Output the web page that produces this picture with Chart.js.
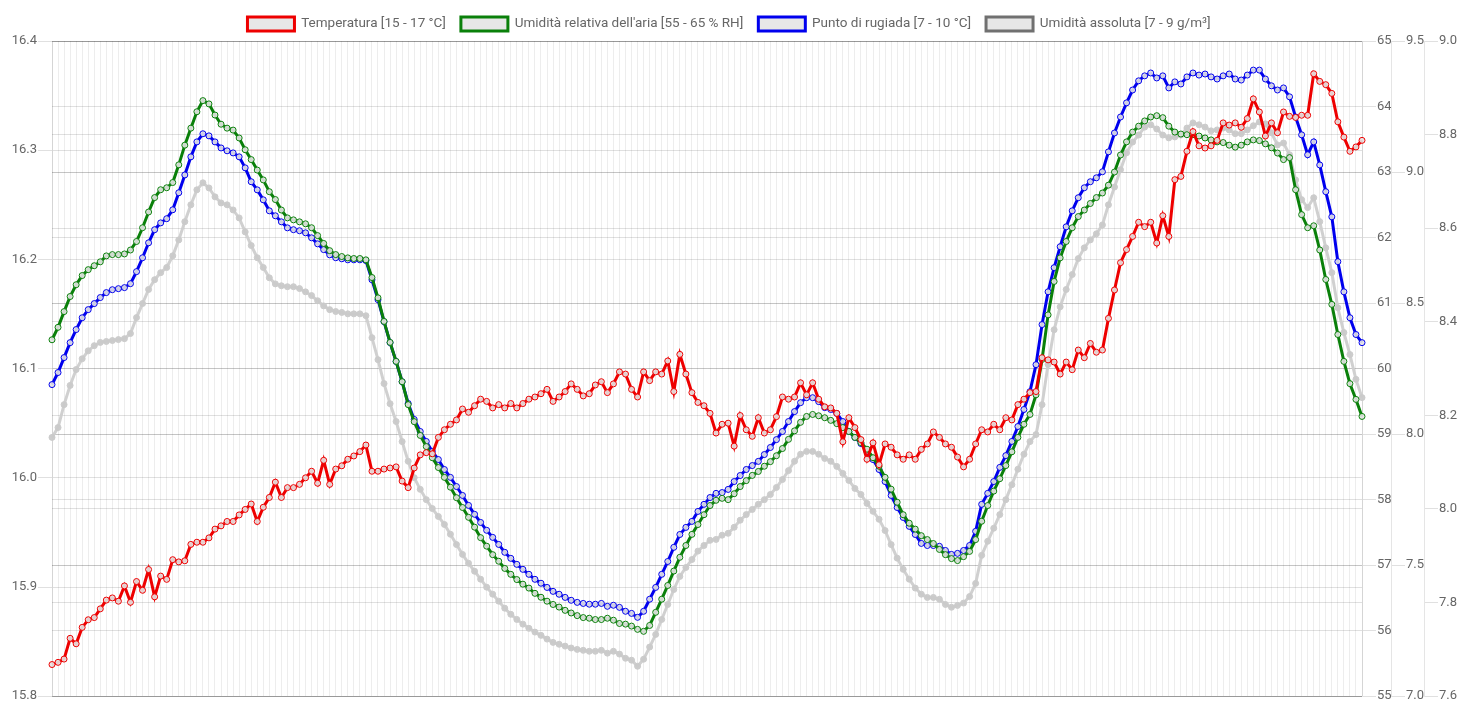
<!DOCTYPE html>
<html>
<head>
<meta charset="utf-8">
<script src="https://cdn.jsdelivr.net/npm/chart.js@4/dist/chart.umd.min.js"></script>
<style>
    body { margin: 0; background: #fff; }
    #wrap { width: 1458px; height: 705px; }
</style>
</head>
<body>
<div id="wrap"><canvas id="myChart" width="1458" height="705"></canvas></div>
<script>
// Temperatura (°C)
const temperatura = [
    15.829, 15.831, 15.834, 15.853, 15.848, 15.863, 15.870, 15.872, 15.880, 15.888,
    15.890, 15.887, 15.901, 15.886, 15.905, 15.897, 15.916, 15.891, 15.910, 15.907,
    15.925, 15.923, 15.924, 15.939, 15.941, 15.941, 15.945, 15.953, 15.956, 15.960,
    15.960, 15.966, 15.971, 15.976, 15.960, 15.973, 15.982, 15.996, 15.982, 15.991,
    15.991, 15.994, 16.000, 16.006, 15.995, 16.016, 15.994, 16.008, 16.011, 16.017,
    16.020, 16.024, 16.030, 16.006, 16.006, 16.008, 16.009, 16.010, 15.997, 15.991,
    16.009, 16.021, 16.023, 16.022, 16.037, 16.044, 16.049, 16.053, 16.063, 16.060,
    16.066, 16.072, 16.070, 16.064, 16.067, 16.064, 16.068, 16.064, 16.068, 16.072,
    16.074, 16.077, 16.081, 16.070, 16.074, 16.079, 16.086, 16.081, 16.075, 16.077,
    16.085, 16.088, 16.078, 16.086, 16.097, 16.095, 16.081, 16.074, 16.097, 16.089,
    16.097, 16.095, 16.107, 16.079, 16.113, 16.095, 16.078, 16.069, 16.066, 16.059,
    16.041, 16.049, 16.050, 16.029, 16.057, 16.044, 16.038, 16.055, 16.041, 16.044,
    16.056, 16.074, 16.072, 16.074, 16.087, 16.076, 16.087, 16.072, 16.065, 16.064,
    16.059, 16.033, 16.055, 16.046, 16.035, 16.017, 16.032, 16.012, 16.031, 16.028,
    16.021, 16.017, 16.021, 16.017, 16.026, 16.031, 16.042, 16.037, 16.031, 16.028,
    16.019, 16.010, 16.017, 16.031, 16.044, 16.042, 16.049, 16.044, 16.055, 16.053,
    16.067, 16.072, 16.078, 16.079, 16.110, 16.108, 16.106, 16.095, 16.106, 16.099,
    16.117, 16.110, 16.123, 16.115, 16.117, 16.146, 16.172, 16.197, 16.209, 16.221,
    16.234, 16.230, 16.234, 16.215, 16.240, 16.221, 16.273, 16.276, 16.299, 16.317,
    16.304, 16.302, 16.304, 16.309, 16.325, 16.323, 16.325, 16.321, 16.329, 16.347,
    16.335, 16.313, 16.325, 16.316, 16.335, 16.331, 16.330, 16.332, 16.332, 16.370,
    16.363, 16.360, 16.352, 16.326, 16.312, 16.299, 16.303, 16.309
];
// Umidità relativa (% RH)
const umiditaRelativa = [
    60.44, 60.63, 60.87, 61.10, 61.28, 61.42, 61.51, 61.57, 61.63, 61.72,
    61.74, 61.74, 61.75, 61.81, 61.94, 62.15, 62.39, 62.61, 62.73, 62.76,
    62.84, 63.11, 63.41, 63.67, 63.92, 64.09, 64.04, 63.87, 63.73, 63.67,
    63.64, 63.52, 63.34, 63.19, 63.03, 62.88, 62.70, 62.58, 62.42, 62.30,
    62.27, 62.24, 62.21, 62.15, 62.03, 61.91, 61.80, 61.74, 61.71, 61.69,
    61.68, 61.68, 61.66, 61.39, 61.08, 60.72, 60.40, 60.11, 59.80, 59.45,
    59.19, 58.98, 58.81, 58.64, 58.49, 58.34, 58.19, 58.03, 57.88, 57.73,
    57.58, 57.42, 57.29, 57.16, 57.06, 56.95, 56.86, 56.78, 56.71, 56.65,
    56.57, 56.51, 56.45, 56.40, 56.36, 56.31, 56.27, 56.23, 56.20, 56.19,
    56.17, 56.17, 56.19, 56.16, 56.11, 56.10, 56.07, 56.02, 55.99, 56.08,
    56.28, 56.48, 56.69, 56.91, 57.12, 57.30, 57.47, 57.62, 57.77, 57.91,
    57.99, 58.02, 58.00, 58.09, 58.20, 58.29, 58.37, 58.43, 58.51, 58.58,
    58.67, 58.78, 58.92, 59.05, 59.18, 59.27, 59.30, 59.28, 59.25, 59.21,
    59.16, 59.10, 59.04, 58.95, 58.87, 58.77, 58.64, 58.51, 58.34, 58.16,
    57.96, 57.77, 57.64, 57.55, 57.45, 57.39, 57.33, 57.24, 57.16, 57.10,
    57.07, 57.13, 57.21, 57.39, 57.67, 57.91, 58.13, 58.32, 58.52, 58.73,
    58.95, 59.15, 59.30, 59.60, 60.14, 60.82, 61.33, 61.69, 61.94, 62.15,
    62.32, 62.42, 62.52, 62.61, 62.68, 62.80, 63.00, 63.26, 63.46, 63.61,
    63.70, 63.78, 63.84, 63.86, 63.83, 63.70, 63.61, 63.58, 63.57, 63.57,
    63.55, 63.52, 63.49, 63.46, 63.45, 63.41, 63.38, 63.41, 63.46, 63.49,
    63.48, 63.43, 63.37, 63.29, 63.19, 63.22, 62.73, 62.35, 62.15, 62.18,
    61.81, 61.36, 60.98, 60.52, 60.11, 59.77, 59.53, 59.27
];
// Punto di rugiada (°C)
const puntoRugiada = [
    8.189, 8.235, 8.292, 8.349, 8.399, 8.444, 8.475, 8.498, 8.521, 8.540,
    8.551, 8.555, 8.559, 8.574, 8.620, 8.673, 8.730, 8.780, 8.806, 8.822,
    8.856, 8.921, 8.989, 9.058, 9.115, 9.146, 9.138, 9.115, 9.092, 9.081,
    9.073, 9.058, 9.016, 8.963, 8.932, 8.894, 8.852, 8.833, 8.810, 8.787,
    8.780, 8.776, 8.768, 8.749, 8.726, 8.704, 8.684, 8.673, 8.669, 8.665,
    8.665, 8.665, 8.662, 8.589, 8.513, 8.429, 8.349, 8.277, 8.200, 8.117,
    8.056, 8.010, 7.972, 7.934, 7.903, 7.865, 7.835, 7.800, 7.766, 7.728,
    7.694, 7.663, 7.633, 7.606, 7.579, 7.549, 7.526, 7.503, 7.484, 7.465,
    7.446, 7.431, 7.415, 7.400, 7.389, 7.377, 7.366, 7.358, 7.354, 7.351,
    7.351, 7.354, 7.343, 7.347, 7.339, 7.324, 7.316, 7.301, 7.324, 7.370,
    7.415, 7.465, 7.514, 7.568, 7.617, 7.644, 7.667, 7.705, 7.732, 7.758,
    7.774, 7.777, 7.789, 7.819, 7.842, 7.865, 7.880, 7.896, 7.922, 7.949,
    7.979, 8.010, 8.048, 8.086, 8.120, 8.139, 8.139, 8.124, 8.101, 8.094,
    8.079, 8.048, 8.010, 7.987, 7.964, 7.934, 7.903, 7.865, 7.819, 7.766,
    7.720, 7.682, 7.648, 7.617, 7.583, 7.575, 7.575, 7.572, 7.556, 7.541,
    7.545, 7.556, 7.575, 7.629, 7.732, 7.774, 7.819, 7.873, 7.918, 7.972,
    8.029, 8.094, 8.162, 8.265, 8.418, 8.543, 8.635, 8.715, 8.791, 8.852,
    8.902, 8.940, 8.963, 8.978, 9.001, 9.077, 9.149, 9.210, 9.264, 9.313,
    9.348, 9.367, 9.378, 9.359, 9.367, 9.321, 9.344, 9.336, 9.363, 9.378,
    9.370, 9.374, 9.363, 9.355, 9.367, 9.374, 9.355, 9.351, 9.370, 9.389,
    9.389, 9.355, 9.329, 9.313, 9.321, 9.287, 9.210, 9.142, 9.066, 9.115,
    9.027, 8.925, 8.829, 8.658, 8.543, 8.444, 8.380, 8.349
];
// Umidità assoluta (g/m³)
const umiditaAssoluta = [
    8.153, 8.174, 8.223, 8.264, 8.298, 8.321, 8.338, 8.349, 8.356, 8.358,
    8.360, 8.362, 8.364, 8.375, 8.409, 8.439, 8.469, 8.490, 8.505, 8.516,
    8.541, 8.575, 8.614, 8.650, 8.682, 8.697, 8.686, 8.667, 8.654, 8.650,
    8.639, 8.622, 8.592, 8.563, 8.537, 8.516, 8.494, 8.481, 8.477, 8.475,
    8.475, 8.471, 8.464, 8.456, 8.445, 8.434, 8.426, 8.422, 8.420, 8.417,
    8.417, 8.417, 8.413, 8.366, 8.319, 8.268, 8.225, 8.187, 8.144, 8.102,
    8.067, 8.042, 8.020, 8.001, 7.984, 7.967, 7.946, 7.924, 7.903, 7.884,
    7.867, 7.850, 7.833, 7.818, 7.803, 7.788, 7.775, 7.764, 7.754, 7.745,
    7.737, 7.730, 7.722, 7.715, 7.711, 7.707, 7.703, 7.700, 7.698, 7.696,
    7.696, 7.698, 7.692, 7.696, 7.690, 7.681, 7.677, 7.664, 7.679, 7.705,
    7.732, 7.764, 7.796, 7.828, 7.856, 7.875, 7.892, 7.910, 7.922, 7.933,
    7.935, 7.944, 7.948, 7.961, 7.976, 7.988, 7.999, 8.010, 8.020, 8.031,
    8.046, 8.063, 8.082, 8.102, 8.117, 8.123, 8.123, 8.117, 8.108, 8.102,
    8.091, 8.076, 8.061, 8.044, 8.031, 8.012, 7.995, 7.978, 7.954, 7.924,
    7.895, 7.871, 7.850, 7.831, 7.818, 7.811, 7.811, 7.807, 7.796, 7.790,
    7.794, 7.799, 7.813, 7.841, 7.901, 7.931, 7.959, 7.988, 8.020, 8.052,
    8.085, 8.117, 8.144, 8.159, 8.223, 8.309, 8.383, 8.432, 8.469, 8.501,
    8.535, 8.558, 8.575, 8.588, 8.607, 8.650, 8.688, 8.725, 8.761, 8.784,
    8.799, 8.816, 8.821, 8.812, 8.799, 8.793, 8.795, 8.799, 8.814, 8.825,
    8.821, 8.816, 8.808, 8.810, 8.814, 8.810, 8.802, 8.802, 8.810, 8.819,
    8.827, 8.823, 8.804, 8.778, 8.782, 8.757, 8.703, 8.661, 8.644, 8.665,
    8.614, 8.558, 8.505, 8.430, 8.377, 8.330, 8.277, 8.238
];
// One category per reading (x labels are not shown)
const letture = temperatura.map((v, i) => String(i + 1));

const serie = [
    'Temperatura [15 - 17 °C]',
    'Umidità relativa dell\'aria [55 - 65 % RH]',
    'Punto di rugiada [7 - 10 °C]',
    'Umidità assoluta [7 - 9 g/m³]'
];

const gridColor = 'rgba(0, 0, 0, 0.12)';
const fill = 'rgba(228, 228, 228, 0.9)';
const tickFont = { family: 'Roboto', size: 13 };

function dataset(label, data, color, axis) {
    return {
        label: label,
        data: data,
        yAxisID: axis,
        borderColor: color,
        backgroundColor: fill,
        borderWidth: 3,
        pointRadius: 3,
        pointBorderWidth: 1,
        pointBorderColor: color,
        pointBackgroundColor: fill,
        tension: 0,
        fill: false
    };
}

// tick padding kept small: in Chart.js it also pads the top/bottom of the plot
function yAxis(position, min, max, step, width) {
    return {
        position: position,
        min: min,
        max: max,
        ticks: {
            stepSize: step,
            color: '#666',
            font: tickFont,
            padding: 1,
            callback: v => (step < 1 ? Number(v).toFixed(1) : v)
        },
        grid: { color: gridColor, tickLength: 14 },
        border: { color: 'rgba(0, 0, 0, 0.1)' },
        afterFit: s => { s.width = width; }
    };
}

const grey = dataset(serie[3], umiditaAssoluta, 'rgba(206, 206, 206, 0.95)', 'yA');
grey.pointBorderColor = 'rgba(202, 202, 202, 0.95)';
grey.pointBackgroundColor = 'rgba(202, 202, 202, 0.95)';

const ctx = document.querySelector('#myChart').getContext('2d');
const myChart = new Chart(ctx, {
    type: 'line',
    data: {
        labels: letture,
        datasets: [
            dataset(serie[0], temperatura, '#ee0000', 'yT'),
            dataset(serie[1], umiditaRelativa, '#0a800a', 'yRH'),
            dataset(serie[2], puntoRugiada, '#0000ee', 'yD'),
            grey
        ]
    },
    options: {
        responsive: false,
        animation: false,
        layout: { padding: { top: 2, bottom: 0, left: 0, right: 0 } },
        plugins: {
            tooltip: { enabled: false },
            legend: {
                position: 'top',
                labels: {
                    boxWidth: 47,
                    boxHeight: 14,
                    padding: 15,
                    color: '#666',
                    font: { family: 'Roboto', size: 13.5 },
                    generateLabels: chart => {
                        const items = Chart.defaults.plugins.legend.labels.generateLabels(chart);
                        items[3].strokeStyle = '#707070';
                        return items;
                    }
                }
            }
        },
        scales: {
            x: {
                ticks: { display: false },
                grid: { color: 'rgba(0, 0, 0, 0.07)', drawTicks: false },
                border: { display: false },
                afterFit: s => { s.height = 0; }
            },
            yT: yAxis('left', 15.8, 16.4, 0.1, 52),
            yRH: yAxis('right', 55, 65, 1, 29),
            yD: yAxis('right', 7, 9.5, 0.5, 33),
            yA: yAxis('right', 7.6, 9.0, 0.2, 34)
        }
    }
});
</script>
</body>
</html>
